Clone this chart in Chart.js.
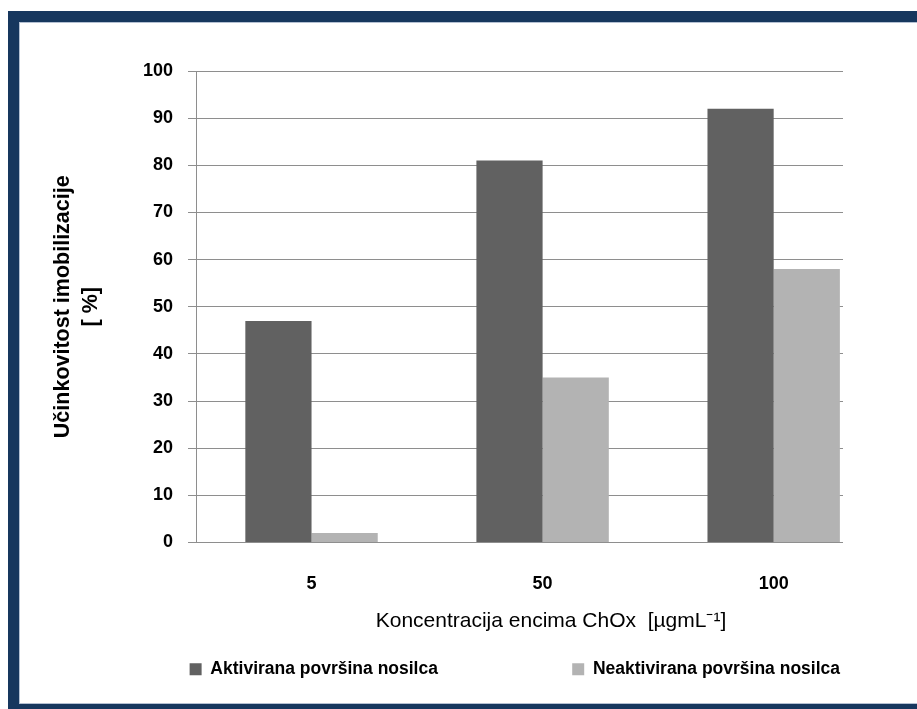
<!DOCTYPE html>
<html>
<head>
<meta charset="utf-8">
<script src="https://cdn.jsdelivr.net/npm/chart.js@4/dist/chart.umd.min.js"></script>
<style>
  html, body { margin: 0; padding: 0; background: #ffffff; overflow: hidden; }
  #frame {
    position: absolute; left: 8px; top: 11px; width: 1000px; height: 682px;
    border: 11px solid #17375e;
    box-shadow: inset 0 0 0 1px #b4c0d2;
  }
  #wrap { position: absolute; left: 0; top: 0; width: 917px; height: 709px; }
</style>
</head>
<body>
<div id="frame"></div>
<div id="wrap"><canvas id="c" width="917" height="709"></canvas></div>
<script>
// Enzyme concentration groups (x axis)
const categories = ['5', '50', '100'];
// Immobilisation efficiency, %
const activated = [47, 81, 92];
const nonActivated = [2, 35, 58];
const seriesNames = ['Aktivirana površina nosilca', 'Neaktivirana površina nosilca'];
const yTicks = [0, 10, 20, 30, 40, 50, 60, 70, 80, 90, 100];
const yTitle = ['Učinkovitost imobilizacije', '[ %]'];
const xTitle = 'Koncentracija encima ChOx  [µgmL⁻¹]';

const FONT = "'Liberation Sans', Arial, sans-serif";
const GRID = '#8e8e8e';

const toPoints = vals => vals.map((v, i) => ({ x: i, y: v }));

new Chart(document.getElementById('c'), {
  type: 'bar',
  data: {
    datasets: [
      { label: seriesNames[0], data: toPoints(activated), backgroundColor: '#616161', borderWidth: 0 },
      { label: seriesNames[1], data: toPoints(nonActivated), backgroundColor: '#b3b3b3', borderWidth: 0 }
    ]
  },
  options: {
    responsive: false,
    animation: false,
    events: [],
    layout: { padding: { top: 71, left: 0, right: 74, bottom: 21 } },
    datasets: { bar: { categoryPercentage: 0.573, barPercentage: 1 } },
    scales: {
      x: {
        type: 'linear',
        offset: false,
        min: -0.5,
        max: 2.3,
        afterBuildTicks: s => { s.ticks = categories.map((_, i) => ({ value: i })); },
        afterFit: s => { s.height = 115; },
        grid: { display: false },
        border: { display: false },
        ticks: {
          padding: 23,
          color: '#000',
          font: { family: FONT, size: 18, weight: 'bold' },
          callback: v => categories[Math.round(v)]
        },
        title: {
          display: true,
          text: '\u2002\u2002\u2002\u2002\u2002\u2002' + xTitle,
          color: '#000',
          font: { family: FONT, size: 21 },
          padding: { top: 0, bottom: 24 }
        }
      },
      y: {
        min: 0,
        max: 100,
        afterBuildTicks: s => { s.ticks = yTicks.map(v => ({ value: v })); },
        afterFit: s => { s.width = 196; },
        grid: { color: GRID, lineWidth: 1, drawTicks: true, tickLength: 8, tickColor: GRID },
        border: { display: true, color: GRID, width: 1 },
        ticks: {
          padding: 15,
          color: '#000',
          font: { family: FONT, size: 18, weight: 'bold' }
        },
        title: {
          display: true,
          text: yTitle,
          color: '#000',
          font: { family: FONT, size: 21.5, weight: 'bold', lineHeight: 1.3 },
          padding: { top: 49, bottom: 0 }
        }
      }
    },
    plugins: {
      tooltip: { enabled: false },
      legend: {
        position: 'bottom',
        align: 'end',
        labels: {
          boxWidth: 12,
          boxHeight: 12,
          padding: 3,
          color: '#000',
          font: { family: FONT, size: 17.5, weight: 'bold' },
          generateLabels: chart => {
            const items = Chart.defaults.plugins.legend.labels.generateLabels(chart);
            items[0].text += '\u2003\u2003\u2003\u2003\u2003\u2003\u2003\u2002';
            return items;
          }
        }
      }
    }
  }
});
</script>
</body>
</html>
